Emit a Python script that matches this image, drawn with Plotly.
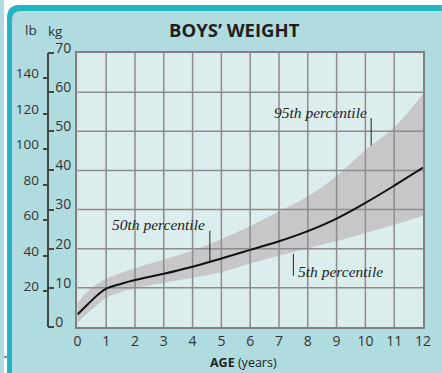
import numpy as np
import plotly.graph_objects as go

# Boys' weight-for-age percentiles (kg)
age = [0, 0.25, 0.5, 0.75, 1, 1.5, 2, 3, 4, 5, 6, 7, 8, 9, 10, 11, 12]
p95 = [6.0, 8.3, 10.0, 11.3, 12.3, 13.8, 15.0, 17.3, 19.5, 22.4, 25.8, 29.5, 33.4, 38.6, 45.2, 51.0, 59.6]
p50 = [3.2, 5.0, 6.8, 8.5, 9.8, 11.0, 12.0, 13.6, 15.4, 17.5, 19.7, 21.9, 24.5, 27.7, 31.7, 36.1, 40.7]
p5 = [1.0, 2.8, 4.5, 6.0, 7.5, 8.9, 9.9, 11.3, 12.6, 14.0, 16.2, 18.2, 20.1, 21.9, 24.0, 26.1, 28.4]

age_ticks = list(range(0, 13))
kg_ticks = list(range(0, 71, 10))
lb_ticks = list(range(20, 141, 20))
KG_PER_LB = 0.45359237

TITLE = "BOYS’ WEIGHT"
X_TITLE = "<b>AGE</b> (years)"

# colours
PANEL = "#b0dce0"
BORDER = "#22b5c1"
PLOT_BG = "#dbeeed"
GRID = "#8c8c8c"
BAND = "#c7c7c9"
TEXT = "#333333"
SANS = "Open Sans"
SERIF = "Liberation Serif"

W, H = 442, 373
L, R, T, B = 10, 19, 53, 46
PLOT_LEFT = 74
AXIS_X = 44


def px(x):
    return (x - L) / (W - L - R)


def py(y):
    return (H - B - y) / (H - T - B)


fig = go.Figure()

# shaded 5th-95th percentile band
fig.add_trace(go.Scatter(x=age, y=p5, mode="lines", line=dict(width=0, shape="spline"),
                         hoverinfo="skip", showlegend=False))
fig.add_trace(go.Scatter(x=age, y=p95, mode="lines", line=dict(width=0, shape="spline"),
                         fill="tonexty", fillcolor=BAND, hoverinfo="skip", showlegend=False))

# grid drawn over the band
gx, gy = [], []
for a in age_ticks[1:-1]:
    gx += [a, a, None]
    gy += [kg_ticks[0], kg_ticks[-1], None]
for k in kg_ticks[1:-1]:
    gx += [age_ticks[0], age_ticks[-1], None]
    gy += [k, k, None]
fig.add_trace(go.Scatter(x=gx, y=gy, mode="lines", line=dict(color=GRID, width=1.5),
                         hoverinfo="skip", showlegend=False))

# median
fig.add_trace(go.Scatter(x=age, y=p50, mode="lines", line=dict(color="#111111", width=2, shape="spline"),
                         hoverinfo="skip", showlegend=False))

# carriers for the kg / lb scales
fig.add_trace(go.Scatter(x=[None], y=[None], yaxis="y2", showlegend=False, hoverinfo="skip"))
fig.add_trace(go.Scatter(x=[None], y=[None], yaxis="y3", showlegend=False, hoverinfo="skip"))

axis_pos = px(AXIS_X)

fig.update_layout(
    width=W, height=H,
    margin=dict(l=L, r=R, t=T, b=B),
    paper_bgcolor=PANEL,
    plot_bgcolor=PLOT_BG,
    font=dict(family=SANS, color=TEXT),
    xaxis=dict(domain=[px(PLOT_LEFT), 1], range=[age_ticks[0], age_ticks[-1]],
               tickvals=age_ticks, ticks="", showgrid=False, zeroline=False,
               showline=True, mirror=True, linecolor="#808080", linewidth=2,
               tickfont=dict(size=14, color=TEXT), fixedrange=True),
    yaxis=dict(range=[kg_ticks[0], kg_ticks[-1]], showticklabels=False, ticks="",
               showgrid=False, zeroline=False, showline=True, mirror=True,
               linecolor="#808080", linewidth=2, fixedrange=True),
    yaxis2=dict(overlaying="y", anchor="free", position=axis_pos, side="right",
                range=[kg_ticks[0], kg_ticks[-1]], tickvals=kg_ticks,
                ticks="outside", ticklen=6, tickwidth=1.5, tickcolor="#444444",
                showline=True, linecolor="#444444", linewidth=1.5,
                showgrid=False, zeroline=False, ticklabelstandoff=-2, ticklabelshift=-5,
                tickfont=dict(size=14, color=TEXT), fixedrange=True),
    yaxis3=dict(overlaying="y", anchor="free", position=axis_pos, side="left",
                range=[kg_ticks[0] / KG_PER_LB, kg_ticks[-1] / KG_PER_LB], tickvals=lb_ticks,
                ticks="outside", ticklen=5, tickwidth=1.5, tickcolor="#444444",
                showline=False, showgrid=False, zeroline=False,
                ticklabelstandoff=1, ticklabelshift=-5,
                tickfont=dict(size=13.5, color=TEXT), fixedrange=True),
)

# panel frame: white surround, teal top/left border with rounded corner
shapes = [
    dict(type="rect", xref="paper", yref="paper", x0=px(0), x1=px(W), y0=py(0), y1=py(5),
         fillcolor="white", line_width=0, layer="below"),
    dict(type="rect", xref="paper", yref="paper", x0=px(0), x1=px(3), y0=py(0), y1=py(H),
         fillcolor="white", line_width=0, layer="below"),
    dict(type="path", xref="paper", yref="paper", layer="below", fillcolor="white", line_width=0,
         path=f"M {px(3)} {py(5)} L {px(16)} {py(5)} Q {px(3)} {py(5)} {px(3)} {py(18)} Z"),
    dict(type="path", xref="paper", yref="paper", layer="below", fillcolor=BORDER, line_width=0,
         path=(f"M {px(3)} {py(H)} L {px(3)} {py(18)} Q {px(3)} {py(5)} {px(16)} {py(5)} "
               f"L {px(W)} {py(5)} L {px(W)} {py(11)} L {px(17)} {py(11)} "
               f"Q {px(8)} {py(11)} {px(8)} {py(20)} L {px(8)} {py(H)} Z")),
    dict(type="line", xref="paper", yref="paper", x0=px(0), x1=px(3), y0=py(357), y1=py(357),
         line=dict(color="#2d6fbf", width=1.5)),
]

# pointer ticks for the percentile labels
def pointer(a, top, bottom):
    return dict(type="line", xref="x", yref="y", x0=a, x1=a, y0=top, y1=bottom,
                line=dict(color="#222222", width=1))

a95, a50, a5 = 10.2, 4.6, 7.5
shapes += [
    pointer(a95, 53.4, float(np.interp(a95, age, p95))),
    pointer(a50, 24.6, float(np.interp(a50, age, p50))),
    pointer(a5, 18.7, 13.1),
]
fig.update_layout(shapes=shapes)

ann = [
    dict(text=f"<b>{TITLE}</b>", x=px(233), y=py(29), font=dict(size=18.5, color="#231f20")),
    dict(text="lb", x=px(27.5), y=py(30), font=dict(size=13.5, color=TEXT)),
    dict(text="kg", x=px(52), y=py(31), font=dict(size=13.5, color=TEXT)),
    dict(text=X_TITLE, x=px(242), y=py(362), font=dict(size=12.5, color="#222222")),
]
for a in ann:
    a.update(xref="paper", yref="paper", showarrow=False, xanchor="center", yanchor="middle")

ann += [
    dict(text="<i>95th percentile</i>", x=8.43, y=54.7, xref="x", yref="y", showarrow=False,
         xanchor="center", yanchor="middle", font=dict(family=SERIF, size=15.5, color="#222222")),
    dict(text="<i>50th percentile</i>", x=2.81, y=26.1, xref="x", yref="y", showarrow=False,
         xanchor="center", yanchor="middle", font=dict(family=SERIF, size=15.5, color="#222222")),
    dict(text="<i>5th percentile</i>", x=7.6, y=14.1, xref="x", yref="y", showarrow=False,
         xanchor="left", yanchor="middle", font=dict(family=SERIF, size=15.5, color="#222222")),
]
fig.update_layout(annotations=ann)

fig.write_html("out.html")
